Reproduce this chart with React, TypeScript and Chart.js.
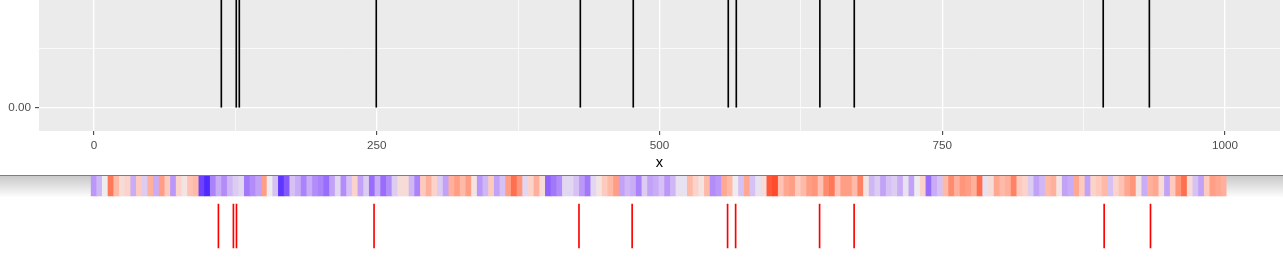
import React, { useEffect, useRef } from 'react';
import { Chart, registerables } from 'chart.js';
Chart.register(...registerables);

// ---- data ----
const eventPositions = [112.6, 125.8, 128.5, 249.6, 430.0, 476.8, 560.8, 567.9, 641.8, 672.2, 892.3, 933.1];
const xTickValues = [0, 125, 250, 375, 500, 625, 750, 875, 1000];
const xMajorTicks = [0, 250, 500, 750, 1000];
const yTickValues = [0, 0.5];
const yTickLabels = ['0.00', ''];
const stripCellSize = 5;
const stripValues = [
  -0.4, -0.25, 0.0, 0.65, 0.3, 0.1, 0.15, -0.3, 0.2, -0.15,
  0.35, -0.3, 0.45, 0.2, -0.4, 0.15, 0.05, 0.25, 0.3, -0.8,
  -0.9, -0.5, -0.3, -0.45, -0.25, -0.15, -0.1, -0.55, -0.45, -0.35,
  0.45, 0.0, -0.2, -0.85, -0.7, -0.2, -0.3, -0.5, -0.3, -0.45,
  -0.5, -0.6, -0.35, -0.1, -0.45, -0.2, 0.15, -0.35, -0.15, -0.6,
  -0.3, -0.6, -0.45, -0.15, 0.1, 0.1, -0.25, -0.5, 0.2, 0.35,
  0.15, -0.15, -0.35, 0.35, 0.45, 0.3, 0.45, 0.05, -0.4, -0.25,
  0.2, -0.35, -0.2, 0.45, 0.7, 0.5, -0.1, 0.15, 0.35, 0.1,
  -0.65, -0.55, -0.45, -0.1, -0.1, -0.2, -0.4, -0.55, -0.1, 0.05,
  0.2, 0.3, 0.45, -0.35, -0.25, -0.3, -0.5, -0.15, -0.35, -0.3,
  -0.2, -0.4, -0.25, -0.05, -0.05, 0.3, 0.15, 0.05, 0.3, -0.45,
  -0.4, 0.4, 0.3, 0.0, -0.2, 0.4, -0.2, -0.05, 0.1, 0.8,
  0.85, 0.25, 0.4, 0.45, 0.2, 0.3, 0.45, 0.5, 0.25, 0.55,
  0.65, 0.25, 0.45, 0.45, 0.3, 0.6, 0.05, -0.25, -0.15, -0.35,
  -0.2, -0.15, -0.3, -0.05, -0.35, 0.0, 0.15, -0.6, -0.3, -0.2,
  0.3, 0.55, 0.35, 0.5, 0.45, 0.35, 0.7, -0.05, 0.1, 0.4,
  0.3, 0.35, 0.6, 0.2, 0.15, -0.15, -0.35, -0.25, 0.3, 0.35,
  0.05, -0.35, -0.3, 0.4, 0.2, -0.35, 0.15, 0.2, 0.3, -0.2,
  0.15, 0.25, 0.4, 0.5, 0.05, -0.3, 0.35, 0.4, 0.1, -0.35,
  0.2, 0.5, 0.7, 0.1, -0.2, -0.35, 0.2, 0.45, 0.4, 0.35,
];
const stripCenters = stripValues.map((_, i) => i * stripCellSize + 3);

// ---- colour helpers (Lab interpolation, like a diverging gradient) ----
const toLin = (c: number) => { c /= 255; return c <= 0.04045 ? c / 12.92 : Math.pow((c + 0.055) / 1.055, 2.4); };
const fromLin = (c: number) => { const v = c <= 0.0031308 ? 12.92 * c : 1.055 * Math.pow(c, 1 / 2.4) - 0.055; return Math.round(Math.max(0, Math.min(1, v)) * 255); };
function rgbToLab([r, g, b]: number[]) {
  const R = toLin(r), G = toLin(g), B = toLin(b);
  const X = (0.4124 * R + 0.3576 * G + 0.1805 * B) / 0.95047;
  const Y = 0.2126 * R + 0.7152 * G + 0.0722 * B;
  const Z = (0.0193 * R + 0.1192 * G + 0.9505 * B) / 1.08883;
  const f = (t: number) => (t > 0.008856 ? Math.cbrt(t) : 7.787 * t + 16 / 116);
  return [116 * f(Y) - 16, 500 * (f(X) - f(Y)), 200 * (f(Y) - f(Z))];
}
function labToRgb([L, a, b]: number[]) {
  const fy = (L + 16) / 116, fx = fy + a / 500, fz = fy - b / 200;
  const inv = (t: number) => (t * t * t > 0.008856 ? t * t * t : (t - 16 / 116) / 7.787);
  const X = inv(fx) * 0.95047, Y = inv(fy), Z = inv(fz) * 1.08883;
  const R = 3.2406 * X - 1.5372 * Y - 0.4986 * Z;
  const G = -0.9689 * X + 1.8758 * Y + 0.0415 * Z;
  const B = 0.0557 * X - 0.204 * Y + 1.057 * Z;
  return `rgb(${fromLin(R)},${fromLin(G)},${fromLin(B)})`;
}
const LOW = rgbToLab([0, 0, 255]);
const MID = rgbToLab([238, 236, 238]);
const HIGH = rgbToLab([255, 0, 0]);
function valueColor(v: number) {
  const t = Math.min(1, Math.abs(v));
  const end = v < 0 ? LOW : HIGH;
  return labToRgb(MID.map((m, i) => m + (end[i] - m) * t));
}

const FONT = '"Liberation Sans", Arial, sans-serif';

const panelBg = {
  id: 'panelBg',
  beforeDraw(chart: any) {
    const { ctx, chartArea } = chart;
    if (!chartArea) return;
    ctx.save();
    ctx.fillStyle = '#EBEBEB';
    ctx.fillRect(chartArea.left, chartArea.top, chartArea.right - chartArea.left, chartArea.bottom - chartArea.top);
    ctx.restore();
  },
};

const zeroPad = (s: any) => { s.paddingTop = 0; s.paddingBottom = 0; s.paddingLeft = 0; s.paddingRight = 0; };

export default function App() {
  const topRef = useRef<HTMLCanvasElement>(null);
  const botRef = useRef<HTMLCanvasElement>(null);

  useEffect(() => {
    const isMajorX = (v: number) => xMajorTicks.includes(v);
    const top = new Chart(topRef.current!, {
      type: 'bar',
      data: {
        datasets: [
          {
            data: eventPositions.map((x) => ({ x, y: [0, 1] })) as any,
            backgroundColor: '#000000',
            borderWidth: 0,
            barThickness: 1,
            grouped: false,
          } as any,
        ],
      },
      options: {
        responsive: false,
        animation: false,
        maintainAspectRatio: false,
        layout: { padding: { left: 0, right: 3, top: 0, bottom: 0 } },
        plugins: { legend: { display: false }, tooltip: { enabled: false } },
        scales: {
          x: {
            type: 'linear',
            offset: false,
            min: -48.6,
            max: 1048.6,
            afterBuildTicks: (s: any) => { s.ticks = xTickValues.map((v) => ({ value: v })); },
            afterFit: (s: any) => { s.height = 44; zeroPad(s); },
            border: { display: false },
            grid: {
              offset: false,
              color: '#FFFFFF',
              lineWidth: (c: any) => (isMajorX(c.tick?.value) ? 1.3 : 0.7),
              tickColor: (c: any) => (isMajorX(c.tick?.value) ? '#333333' : 'rgba(0,0,0,0)'),
              tickLength: 4,
              tickWidth: 1,
            },
            ticks: {
              autoSkip: false,
              maxRotation: 0,
              minRotation: 0,
              padding: 4,
              color: '#4D4D4D',
              font: { family: FONT, size: 11.7 },
              callback: (v: any) => (isMajorX(v) ? String(v) : ''),
            },
            title: {
              display: true,
              text: 'x',
              color: '#000000',
              font: { family: FONT, size: 14.7 },
              padding: { top: 0, bottom: 3 },
            },
          },
          y: {
            type: 'linear',
            min: -0.195,
            max: 0.91,
            afterBuildTicks: (s: any) => { s.ticks = yTickValues.map((v) => ({ value: v })); },
            afterFit: (s: any) => { s.width = 39; zeroPad(s); },
            border: { display: false },
            grid: {
              color: '#FFFFFF',
              lineWidth: (c: any) => (c.tick?.value === 0 ? 1.3 : 0.7),
              tickColor: (c: any) => (c.tick?.value === 0 ? '#333333' : 'rgba(0,0,0,0)'),
              tickLength: 4,
              tickWidth: 1,
            },
            ticks: {
              padding: 4,
              color: '#4D4D4D',
              font: { family: FONT, size: 11.7 },
              callback: (v: any) => yTickLabels[yTickValues.indexOf(v)] ?? '',
            },
          },
        },
      },
      plugins: [panelBg],
    });

    const bottom = new Chart(botRef.current!, {
      type: 'bar',
      data: {
        datasets: [
          {
            data: stripCenters.map((x) => ({ x, y: [0, 20] })) as any,
            backgroundColor: stripValues.map(valueColor),
            borderWidth: 0,
            barThickness: 5.9,
            grouped: false,
          } as any,
          {
            data: eventPositions.map((x) => ({ x, y: [28, 72] })) as any,
            backgroundColor: '#FF0000',
            borderWidth: 0,
            barThickness: 1,
            grouped: false,
          } as any,
        ],
      },
      options: {
        responsive: false,
        animation: false,
        maintainAspectRatio: false,
        layout: { padding: { left: 90.5, right: 56.5, top: 0, bottom: 0 } },
        plugins: { legend: { display: false }, tooltip: { enabled: false } },
        scales: {
          x: { type: 'linear', display: false, offset: false, min: 0, max: 1000, grid: { offset: false } },
          y: { type: 'linear', display: false, min: 0, max: 82, reverse: true },
        },
      },
    });

    return () => { top.destroy(); bottom.destroy(); };
  }, []);

  return (
    <div style={{ position: 'absolute', left: 0, top: 0, width: 1283, height: 258, background: '#FFFFFF', overflow: 'hidden' }}>
      <canvas ref={topRef} width={1283} height={175} style={{ position: 'absolute', left: 0, top: 0, display: 'block' }} />
      <div style={{ position: 'absolute', left: 0, top: 175, width: 1283, height: 1, background: '#3A8FD9' }} />
      <div style={{ position: 'absolute', left: 0, top: 176, width: 1283, height: 22, background: 'linear-gradient(to bottom, #c9c9c9 0px, #ffffff 22px)' }} />
      <canvas ref={botRef} width={1283} height={82} style={{ position: 'absolute', left: 0, top: 176, display: 'block' }} />
    </div>
  );
}
